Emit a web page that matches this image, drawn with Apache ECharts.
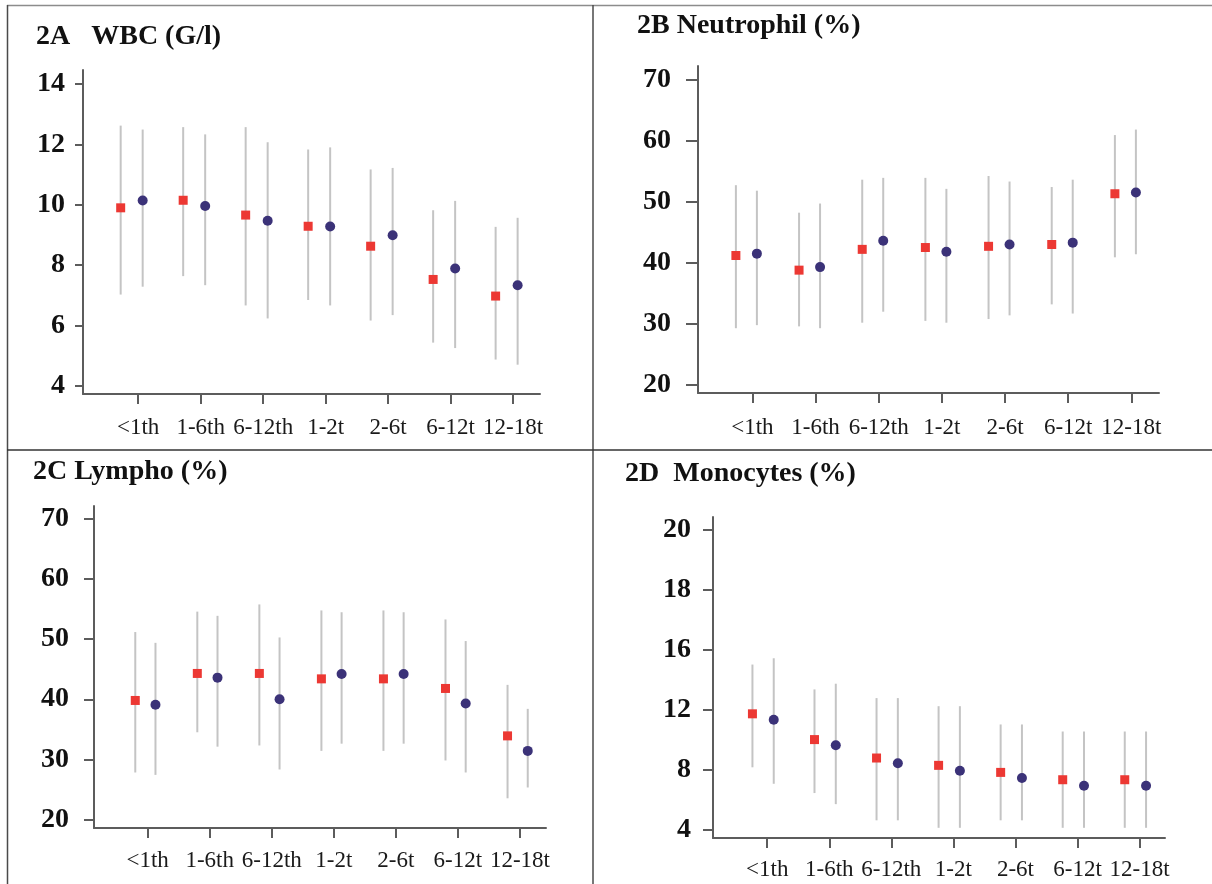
<!DOCTYPE html>
<html>
<head>
<meta charset="utf-8">
<title>Blood count by age group</title>
<script src="https://cdn.jsdelivr.net/npm/echarts@6/dist/echarts.min.js"></script>
<style>
  html, body { margin: 0; padding: 0; background: #ffffff; }
  #chart { width: 1212px; height: 884px; }
</style>
</head>
<body>
<div id="chart"></div>
<script>
// age groups on every x axis
const categories = ['<1th', '1-6th', '6-12th', '1-2t', '2-6t', '6-12t', '12-18t'];

// 2A WBC (G/l)
const wbcRedMean = [9.90, 10.15, 9.66, 9.29, 8.63, 7.53, 6.98];
const wbcRedLow = [7.03, 7.64, 6.67, 6.85, 6.17, 5.44, 4.88];
const wbcRedHigh = [12.62, 12.57, 12.57, 11.83, 11.17, 9.82, 9.27];
const wbcBlueMean = [10.14, 9.96, 9.47, 9.28, 8.99, 7.89, 7.34];
const wbcBlueLow = [7.29, 7.34, 6.24, 6.67, 6.35, 5.26, 4.71];
const wbcBlueHigh = [12.49, 12.33, 12.07, 11.90, 11.22, 10.13, 9.57];

// 2B Neutrophil (%)
const neuRedMean = [41.2, 38.8, 42.2, 42.5, 42.7, 43.0, 51.3];
const neuRedLow = [29.3, 29.6, 30.2, 30.5, 30.8, 33.2, 40.9];
const neuRedHigh = [52.7, 48.2, 53.6, 53.9, 54.2, 52.4, 60.9];
const neuBlueMean = [41.5, 39.3, 43.6, 41.8, 43.0, 43.3, 51.5];
const neuBlueLow = [29.8, 29.3, 32.0, 30.2, 31.4, 31.7, 41.4];
const neuBlueHigh = [51.8, 49.7, 53.9, 52.1, 53.3, 53.6, 61.8];

// 2C Lympho (%)
const lymRedMean = [39.8, 44.3, 44.3, 43.4, 43.4, 41.8, 33.9];
const lymRedLow = [27.8, 34.5, 32.3, 31.4, 31.4, 29.8, 23.5];
const lymRedHigh = [51.2, 54.6, 55.8, 54.8, 54.8, 53.3, 42.4];
const lymBlueMean = [39.1, 43.6, 40.0, 44.2, 44.2, 39.3, 31.4];
const lymBlueLow = [27.4, 32.1, 28.3, 32.6, 32.6, 27.8, 25.3];
const lymBlueHigh = [49.4, 53.9, 50.3, 54.5, 54.5, 49.7, 38.4];

// 2D Monocytes (%)
const monoRedMean = [11.71, 9.99, 8.76, 8.27, 7.80, 7.31, 7.31];
const monoRedLow = [8.14, 6.42, 4.6, 4.1, 4.6, 4.1, 4.1];
const monoRedHigh = [15.0, 13.34, 12.76, 12.22, 11.0, 10.53, 10.53];
const monoBlueMean = [11.31, 9.61, 8.41, 7.91, 7.42, 6.91, 6.91];
const monoBlueLow = [7.04, 5.68, 4.6, 4.1, 4.6, 4.1, 4.1];
const monoBlueHigh = [15.42, 13.72, 12.76, 12.22, 11.0, 10.53, 10.53];

// y tick values / labels
const wbcTicks = [4, 6, 8, 10, 12, 14];
const pctTicks = [20, 30, 40, 50, 60, 70];
const monoTicks = [4, 8, 12, 16, 20, 24];
const monoTickLabels = ['4', '8', '12', '16', '18', '20'];

const SERIF = '"Liberation Serif", "Times New Roman", serif';
const RED = '#ec3833';
const BLUE = '#3b3278';
const BAR = '#c4c4c4';
const AXIS = '#5c5c5c';

const panels = [
	{
		title: '2A   WBC (G/l)', titlePos: [36, 23],
		grid: { left: 83, top: 70, width: 457, height: 324 },
		xRange: [-0.883, 6.43], yRange: [3.74, 14.46],
		ticks: wbcTicks, tickLabels: null,
		red: [wbcRedMean, wbcRedLow, wbcRedHigh], blue: [wbcBlueMean, wbcBlueLow, wbcBlueHigh],
		dx: [-17.5, 4.5], yMargin: 18, yShift: 6, yTickLen: 8, xMargin: 22
	},
	{
		title: '2B Neutrophil (%)', titlePos: [637, 12],
		grid: { left: 698, top: 66, width: 461, height: 327 },
		xRange: [-0.861, 6.437], yRange: [18.7, 72.2],
		ticks: pctTicks, tickLabels: null,
		red: [neuRedMean, neuRedLow, neuRedHigh], blue: [neuBlueMean, neuBlueLow, neuBlueHigh],
		dx: [-16.5, 4.5], yMargin: 27, yShift: 2, yTickLen: 12, xMargin: 23
	},
	{
		title: '2C Lympho (%)', titlePos: [33, 458],
		grid: { left: 94, top: 506, width: 452, height: 322 },
		xRange: [-0.865, 6.42], yRange: [18.55, 72.2],
		ticks: pctTicks, tickLabels: null,
		red: [lymRedMean, lymRedLow, lymRedHigh], blue: [lymBlueMean, lymBlueLow, lymBlueHigh],
		dx: [-12.4, 7.8], yMargin: 25, yShift: 2, yTickLen: 10, xMargin: 21
	},
	{
		title: '2D  Monocytes (%)', titlePos: [625, 460],
		grid: { left: 713, top: 517, width: 452, height: 321 },
		xRange: [-0.874, 6.41], yRange: [3.42, 24.85],
		ticks: monoTicks, tickLabels: monoTickLabels,
		red: [monoRedMean, monoRedLow, monoRedHigh], blue: [monoBlueMean, monoBlueLow, monoBlueHigh],
		dx: [-14.8, 6.5], yMargin: 22, yShift: 4, yTickLen: 10, xMargin: 20
	}
];

const catIdx = categories.map((c, i) => i);

function whiskers(pi, set, dx) {
	return {
		type: 'custom',
		xAxisIndex: pi, yAxisIndex: pi,
		silent: true, z: 1,
		data: categories.map((c, i) => [i, set[1][i], set[2][i]]),
		renderItem: function (params, api) {
			const x = api.value(0);
			const lo = api.coord([x, api.value(1)]);
			const hi = api.coord([x, api.value(2)]);
			return {
				type: 'line',
				shape: { x1: lo[0] + dx, y1: lo[1], x2: hi[0] + dx, y2: hi[1] },
				style: { stroke: BAR, lineWidth: 2 }
			};
		}
	};
}

function markers(pi, set, dx, symbol, size, color) {
	return {
		type: 'scatter',
		xAxisIndex: pi, yAxisIndex: pi,
		silent: true, z: 3,
		symbol: symbol, symbolSize: size, symbolOffset: [dx, 0],
		itemStyle: { color: color, opacity: 1 },
		data: categories.map((c, i) => [i, set[0][i]])
	};
}

const series = [];
panels.forEach((p, pi) => {
	series.push(whiskers(pi, p.red, p.dx[0]));
	series.push(whiskers(pi, p.blue, p.dx[1]));
	series.push(markers(pi, p.red, p.dx[0], 'rect', [9, 9], RED));
	series.push(markers(pi, p.blue, p.dx[1], 'circle', 10, BLUE));
});

const option = {
	backgroundColor: '#ffffff',
	animation: false,
	title: panels.map(p => ({
		text: p.title,
		left: p.titlePos[0], top: p.titlePos[1],
		padding: 0,
		textStyle: { fontFamily: SERIF, fontSize: 28, fontWeight: 'bold', color: '#111111' }
	})),
	grid: panels.map(p => p.grid),
	xAxis: panels.map((p, pi) => ({
		type: 'value', gridIndex: pi,
		min: p.xRange[0], max: p.xRange[1],
		splitLine: { show: false },
		axisLine: { show: true, onZero: false, lineStyle: { color: AXIS, width: 2 } },
		axisTick: { show: true, length: 10, customValues: catIdx, lineStyle: { color: AXIS, width: 2 } },
		axisLabel: {
			customValues: catIdx,
			formatter: v => categories[Math.round(v)],
			margin: p.xMargin,
			fontFamily: SERIF, fontSize: 23, color: '#1a1a1a'
		}
	})),
	yAxis: panels.map((p, pi) => ({
		type: 'value', gridIndex: pi,
		min: p.yRange[0], max: p.yRange[1],
		splitLine: { show: false },
		axisLine: { show: true, onZero: false, lineStyle: { color: AXIS, width: 2 } },
		axisTick: { show: true, length: p.yTickLen, customValues: p.ticks, lineStyle: { color: AXIS, width: 2 } },
		axisLabel: {
			customValues: p.ticks,
			formatter: v => p.tickLabels ? p.tickLabels[p.ticks.indexOf(v)] : String(v),
			margin: p.yMargin,
			padding: [0, 0, p.yShift * 2, 0],
			fontFamily: SERIF, fontSize: 28, fontWeight: 'bold', color: '#111111'
		}
	})),
	// table borders around the four panels
	graphic: [
		{ type: 'line', shape: { x1: 7, y1: 5.5, x2: 1212, y2: 5.5 }, style: { stroke: '#8c8c8c', lineWidth: 1.5 } },
		{ type: 'line', shape: { x1: 7.5, y1: 5, x2: 7.5, y2: 884 }, style: { stroke: '#4a4a4a', lineWidth: 1.5 } },
		{ type: 'line', shape: { x1: 593, y1: 5, x2: 593, y2: 884 }, style: { stroke: '#4a4a4a', lineWidth: 1.5 } },
		{ type: 'line', shape: { x1: 7, y1: 450, x2: 1212, y2: 450 }, style: { stroke: '#333333', lineWidth: 1.5 } }
	],
	series: series
};

const chart = echarts.init(document.getElementById('chart'), null, { renderer: 'canvas', width: 1212, height: 884 });
chart.setOption(option);
</script>
</body>
</html>
